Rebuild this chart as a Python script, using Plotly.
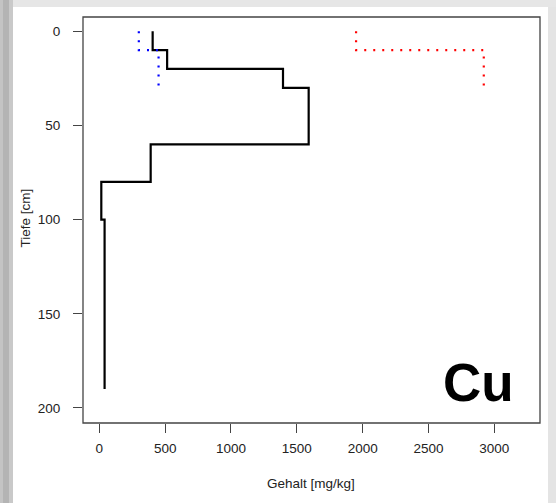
import plotly.graph_objects as go

# ---- data ----
depth_black = [0, 10, 20, 30, 60, 80, 100, 190]
cu_black = [405, 515, 1395, 1590, 390, 15, 40, 40]

depth_blue = [0, 10, 30]
cu_blue = [300, 450, 450]

depth_red = [0, 10, 30]
cu_red = [1950, 2920, 2920]

x_ticks = [0, 500, 1000, 1500, 2000, 2500, 3000]
y_ticks = [0, 50, 100, 150, 200]

# ---- layout geometry (pixels) ----
W, H = 556, 503
L, R, T, B = 83, 540, 17, 423
pw, ph = R - L, B - T


def px(x):
    return (x - L) / pw


def py(y):
    return (B - y) / ph


FONT = "Liberation Sans, Arial, sans-serif"

fig = go.Figure()
fig.add_trace(go.Scatter(x=cu_black, y=depth_black, mode="lines", line_shape="vh",
                         line=dict(color="black", width=2.2), showlegend=False))
fig.add_trace(go.Scatter(x=cu_blue, y=depth_blue, mode="lines", line_shape="vh",
                         line=dict(color="#0000ff", width=2.2, dash="2px,7px"), showlegend=False))
fig.add_trace(go.Scatter(x=cu_red, y=depth_red, mode="lines", line_shape="vh",
                         line=dict(color="#ff0000", width=2.2, dash="2px,7px"), showlegend=False))

shapes = []
# frame decoration around the picture
bands = [(0, 3, "#c4c4c4"), (3, 9, "#b4b4b4"), (9, 13, "#c9c9c9")]
for x0, x1, c in bands:
    shapes.append(dict(type="rect", xref="paper", yref="paper", x0=px(x0), x1=px(x1),
                       y0=py(H), y1=py(0), fillcolor=c, line_width=0, layer="below"))
shapes.append(dict(type="rect", xref="paper", yref="paper", x0=px(13), x1=px(W),
                   y0=py(7), y1=py(0), fillcolor="#e6e6e6", line_width=0, layer="below"))
shapes.append(dict(type="rect", xref="paper", yref="paper", x0=px(548), x1=px(W),
                   y0=py(H), y1=py(7), fillcolor="#e4e4e4", line_width=0, layer="below"))
# plot box (R style box())
shapes.append(dict(type="rect", xref="paper", yref="paper", x0=0, x1=1, y0=0, y1=1,
                   line=dict(color="#444", width=1.3), fillcolor="rgba(0,0,0,0)", layer="above"))

annotations = [
    dict(text="Cu", xref="paper", yref="paper", x=px(478), y=py(382), showarrow=False,
         font=dict(family=FONT, size=53, color="black", weight="bold"),
         xanchor="center", yanchor="middle"),
    dict(text="Gehalt [mg/kg]", xref="paper", yref="paper", x=px(311), y=py(483), showarrow=False,
         font=dict(family=FONT, size=13.5, color="#222"), xanchor="center", yanchor="middle"),
    dict(text="Tiefe [cm]", xref="paper", yref="paper", x=px(24.5), y=py(218), showarrow=False,
         textangle=-90, font=dict(family=FONT, size=13.5, color="#222"),
         xanchor="center", yanchor="middle"),
]

axis_common = dict(showgrid=False, zeroline=False, showline=False,
                   ticks="outside", ticklen=9,
                   tickcolor="#444", tickwidth=1.2,
                   tickfont=dict(family=FONT, size=13.5, color="#222"))

fig.update_layout(
    width=W, height=H,
    margin=dict(l=L, r=W - R, t=T, b=H - B, autoexpand=False),
    paper_bgcolor="white", plot_bgcolor="white",
    xaxis=dict(range=[-124, 3347], tickvals=x_ticks, ticktext=[str(v) for v in x_ticks],
               ticklabelstandoff=4, **axis_common),
    yaxis=dict(range=[208, -7.6], tickvals=y_ticks, ticktext=[str(v) for v in y_ticks],
               ticklabelstandoff=10, **axis_common),
    shapes=shapes, annotations=annotations,
)

fig.write_html("out.html", config={"displayModeBar": False},
               post_script="document.body.style.margin='0';document.body.style.overflow='hidden';")
